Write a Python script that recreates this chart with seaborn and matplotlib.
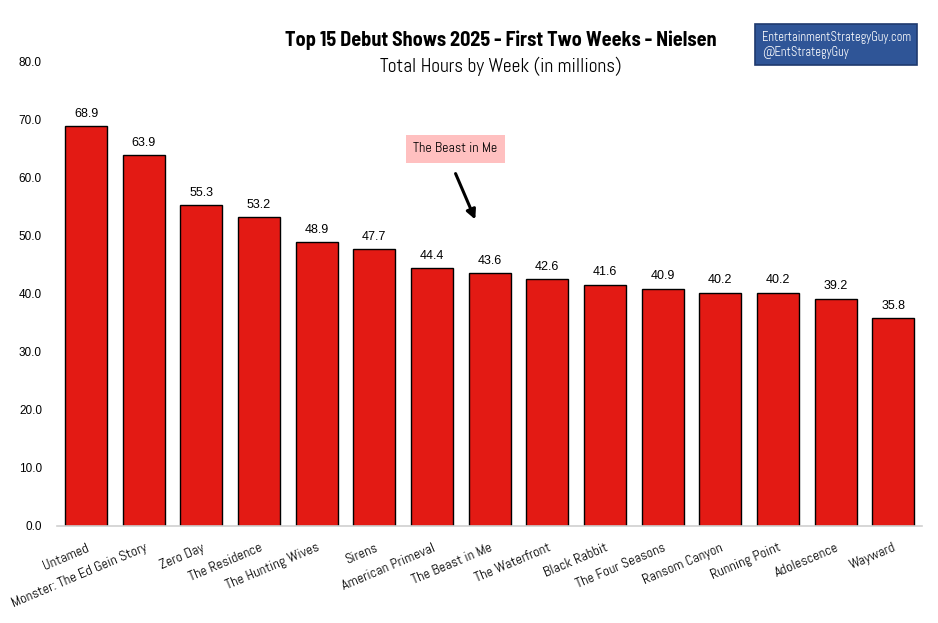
import matplotlib
matplotlib.use("Agg")
import matplotlib.pyplot as plt
import seaborn as sns
import pandas as pd

shows = ["Untamed", "Monster: The Ed Gein Story", "Zero Day", "The Residence",
         "The Hunting Wives", "Sirens", "American Primeval", "The Beast in Me",
         "The Waterfront", "Black Rabbit", "The Four Seasons", "Ransom Canyon",
         "Running Point", "Adolescence", "Wayward"]
hours = [68.9, 63.9, 55.3, 53.2, 48.9, 47.7, 44.4, 43.6, 42.6, 41.6, 40.9,
         40.2, 40.2, 39.2, 35.8]
y_ticks = [0, 10, 20, 30, 40, 50, 60, 70, 80]

sns.set_theme(style="white")
plt.rcParams["font.family"] = ["Abel", "DejaVu Sans"]
plt.rcParams["text.color"] = "black"
plt.rcParams["xtick.color"] = "black"
plt.rcParams["ytick.color"] = "black"
title_font = ["Barlow Semi Condensed", "Roboto Condensed", "PT Sans Narrow", "DejaVu Sans"]
num_font = ["Liberation Sans", "DejaVu Sans"]

df = pd.DataFrame({"show": shows, "hours": hours})

fig = plt.figure(figsize=(9.38, 6.23), dpi=100)
ax = fig.add_axes([0.061, 0.1557, 0.922, 0.7448])

sns.barplot(data=df, x="show", y="hours", color="#E31A14", width=0.73,
            edgecolor="black", linewidth=1, saturation=1, ax=ax)

for i, v in enumerate(hours):
    ax.text(i, v + 1.1, f"{v:.1f}", ha="center", va="bottom", fontsize=9,
            family=num_font)

ax.set_ylim(0, 80)
ax.set_xlim(-0.5, len(shows) - 0.5)
ax.set_yticks(y_ticks)
ax.set_yticklabels([f"{t:.1f}" for t in y_ticks], fontsize=8.5, family=num_font)
ax.set_xlabel("")
ax.set_ylabel("")
ax.set_xticks(range(len(shows)))
ax.set_xticklabels(shows, rotation=23, ha="right", rotation_mode="anchor",
                   fontsize=10.3)
ax.tick_params(axis="both", length=0)
ax.tick_params(axis="x", pad=11)
ax.tick_params(axis="y", pad=11)
for side in ["top", "right", "left"]:
    ax.spines[side].set_visible(False)
ax.spines["bottom"].set_color("#d0d0d0")
ax.spines["bottom"].set_linewidth(1.2)

ax.annotate("", xy=(6.77, 52.4), xytext=(6.39, 61.2),
            arrowprops=dict(arrowstyle="-|>", color="black", lw=2.2,
                            mutation_scale=14))
ax.text(6.41, 65.0, "The Beast in Me", ha="center", va="center", fontsize=10,
        bbox=dict(boxstyle="square,pad=0.55", facecolor="#FFC0C0",
                  edgecolor="none"))

fig.text(0.534, 0.936, "Top 15 Debut Shows 2025 - First Two Weeks - Nielsen",
         ha="center", va="center", fontsize=14.5, fontweight="bold",
         family=title_font)
fig.text(0.534, 0.893, "Total Hours by Week (in millions)",
         ha="center", va="center", fontsize=14)
fig.text(0.812, 0.928, "EntertainmentStrategyGuy.com\n@EntStrategyGuy",
         ha="left", va="center", fontsize=9, color="white", linespacing=1.25,
         bbox=dict(boxstyle="square,pad=0.5", facecolor="#2F5597",
                   edgecolor="#1F3A6E", linewidth=1.2))

fig.savefig("out.png", dpi=100)
